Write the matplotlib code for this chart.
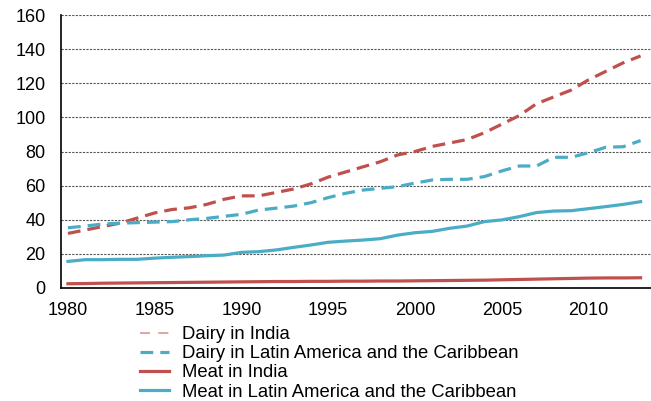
import matplotlib
matplotlib.use("Agg")
import matplotlib.pyplot as plt

years = list(range(1980, 2014))

dairy_india = [32, 34, 36, 38, 41, 44, 46, 47, 49, 52,
               54, 54, 56, 58, 61, 65, 68, 71, 74, 78,
               80, 83, 85, 87, 91, 96, 101, 108, 112, 116,
               122, 127, 132, 136]
dairy_lac = [35.3, 36.3, 37.5, 38.0, 38.3, 38.6, 38.9, 40.0, 40.8, 42.0,
             43.2, 45.7, 46.8, 48.0, 50.0, 53.0, 55.5, 57.4, 58.4, 59.4,
             61.5, 63.3, 63.7, 63.7, 65.3, 68.6, 71.5, 71.5, 76.6, 76.6,
             79.3, 82.5, 82.8, 86.4]
meat_india = [2.5, 2.6, 2.8, 2.9, 3.0, 3.1, 3.2, 3.3, 3.4, 3.5,
              3.6, 3.7, 3.8, 3.8, 3.9, 3.9, 4.0, 4.0, 4.1, 4.1,
              4.2, 4.3, 4.4, 4.5, 4.6, 4.8, 5.0, 5.2, 5.4, 5.6,
              5.8, 5.9, 5.9, 6.0]
meat_lac = [15.6, 16.6, 16.6, 16.8, 16.8, 17.5, 18.0, 18.4, 18.9, 19.3,
            20.9, 21.3, 22.3, 23.8, 25.2, 26.8, 27.5, 28.1, 28.9, 31.0,
            32.4, 33.2, 35.0, 36.3, 38.9, 39.9, 41.8, 44.2, 45.1, 45.3,
            46.5, 47.7, 49.0, 50.6]

labels = ["Dairy in India", "Dairy in Latin America and the Caribbean",
          "Meat in India", "Meat in Latin America and the Caribbean"]
xticks = [1980, 1985, 1990, 1995, 2000, 2005, 2010]
yticks = [0, 20, 40, 60, 80, 100, 120, 140, 160]

RED = "#C0504D"
BLUE = "#4BACC6"

plt.rcParams['font.family'] = ['Liberation Sans', 'DejaVu Sans']

fig = plt.figure(figsize=(6.51, 4.01), dpi=100)
ax = fig.add_axes([61/651, 1 - 288/401, 1 - 61/651, (288 - 15)/401])

lw = 2.3
ax.plot(years, dairy_india, color=RED, lw=lw, dashes=(4, 2.2), label=labels[0],
        dash_capstyle='butt')
ax.plot(years, dairy_lac, color=BLUE, lw=lw, dashes=(4, 2.2), label=labels[1],
        dash_capstyle='butt')
ax.plot(years, meat_india, color=RED, lw=lw, label=labels[2])
ax.plot(years, meat_lac, color=BLUE, lw=lw, label=labels[3])

ax.set_xlim(1979.6, 2013.6)
ax.set_ylim(0, 160)
ax.set_xticks(xticks)
ax.set_yticks(yticks)
ax.tick_params(axis='both', length=0, labelsize=13, colors='black')
ax.tick_params(axis='y', pad=11)
ax.tick_params(axis='x', pad=10)

ax.yaxis.grid(True, color='#555555', linestyle=(0, (2, 1.2)), linewidth=0.8)
ax.set_axisbelow(True)
for side in ['top', 'right']:
    ax.spines[side].set_visible(False)
for side in ['left', 'bottom']:
    ax.spines[side].set_color('black')
    ax.spines[side].set_linewidth(1.2)

leg = fig.legend(loc='upper left', bbox_to_anchor=(140/651, 1 - 326/401),
                 frameon=False, fontsize=13.3, handlelength=1.55,
                 handletextpad=0.7, labelspacing=0.12, borderpad=0,
                 borderaxespad=0)
lines = leg.get_lines()
lines[0].set_color('#D99694')
lines[0].set_linewidth(1.2)
lines[0].set_dashes((6, 5))

fig.savefig("out.png", dpi=100)
